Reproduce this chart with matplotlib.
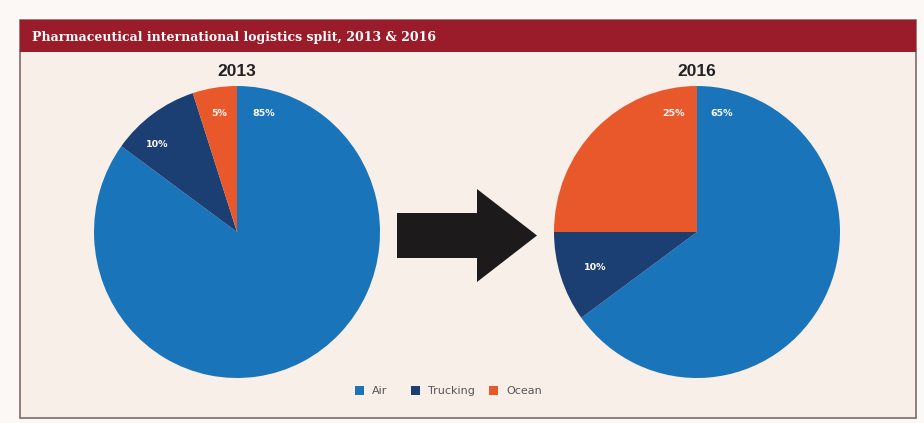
import matplotlib
matplotlib.use("Agg")
import matplotlib.pyplot as plt
from matplotlib.patches import Rectangle, FancyArrow
import numpy as np

# data
modes = ["Air", "Trucking", "Ocean"]
share_2013 = [85, 10, 5]
share_2016 = [65, 10, 25]
colors = ["#1a74b9", "#1b3e73", "#e9582a"]

W, H = 924, 423
fig = plt.figure(figsize=(W / 100, H / 100), dpi=100)
fig.patch.set_facecolor("#fcf8f5")

# background canvas in pixel coords
bg = fig.add_axes([0, 0, 1, 1])
bg.set_xlim(0, W)
bg.set_ylim(H, 0)
bg.axis("off")
bg.add_patch(Rectangle((20, 20), 896, 398, facecolor="#f9efe9", edgecolor="#7d6a68", lw=1.2))
bg.add_patch(Rectangle((20, 20), 896, 32, facecolor="#9a1b29", edgecolor="none"))
bg.text(32, 37, "Pharmaceutical international logistics split, 2013 & 2016", color="white",
        fontsize=9.0, fontweight="bold", family="DejaVu Serif", va="center", ha="left")

# arrow between the pies
bg.add_patch(FancyArrow(397, 235.5, 140, 0, width=45, head_width=93, head_length=60,
                        length_includes_head=True, color="#1c1a1a", lw=0))


def draw_pie(cx, cy, rx, ry, values, year, label_pos):
    ax = fig.add_axes([(cx - rx) / W, (H - cy - ry) / H, 2 * rx / W, 2 * ry / H])
    ax.pie(values, colors=colors, startangle=90, counterclock=False,
           wedgeprops=dict(linewidth=0))
    ax.set_xlim(-1, 1)
    ax.set_ylim(-1, 1)
    ax.set_aspect("auto")
    ax.axis("off")
    for v, (ang, rad) in zip(values, label_pos):
        a = np.deg2rad(ang)
        ax.text(rad * np.sin(a), rad * np.cos(a), f"{v}%", color="white", fontsize=6.8,
                fontweight="bold", family="DejaVu Sans", ha="center", va="center")
    bg.text(cx, 71, year, fontsize=12.5, fontweight="bold", color="#222222",
            family="Liberation Sans", ha="center", va="center")


# label placement: (angle clockwise from top, radius fraction)
pos_2013 = [(13, 0.83), (-43, 0.82), (-8.5, 0.82)]
pos_2016 = [(12, 0.83), (-109, 0.75), (-11.5, 0.83)]

draw_pie(237, 232, 143, 146, share_2013, "2013", pos_2013)
draw_pie(697, 232, 143, 146, share_2016, "2016", pos_2016)

# legend
lx = [355, 411, 489]
for x, c, name in zip(lx, colors, modes):
    bg.add_patch(Rectangle((x, 386), 9, 9, facecolor=c, edgecolor="none"))
    bg.text(x + 17, 391, name, fontsize=8, color="#555555", family="DejaVu Sans",
            va="center", ha="left")

fig.savefig("out.png", dpi=100, facecolor=fig.get_facecolor())
